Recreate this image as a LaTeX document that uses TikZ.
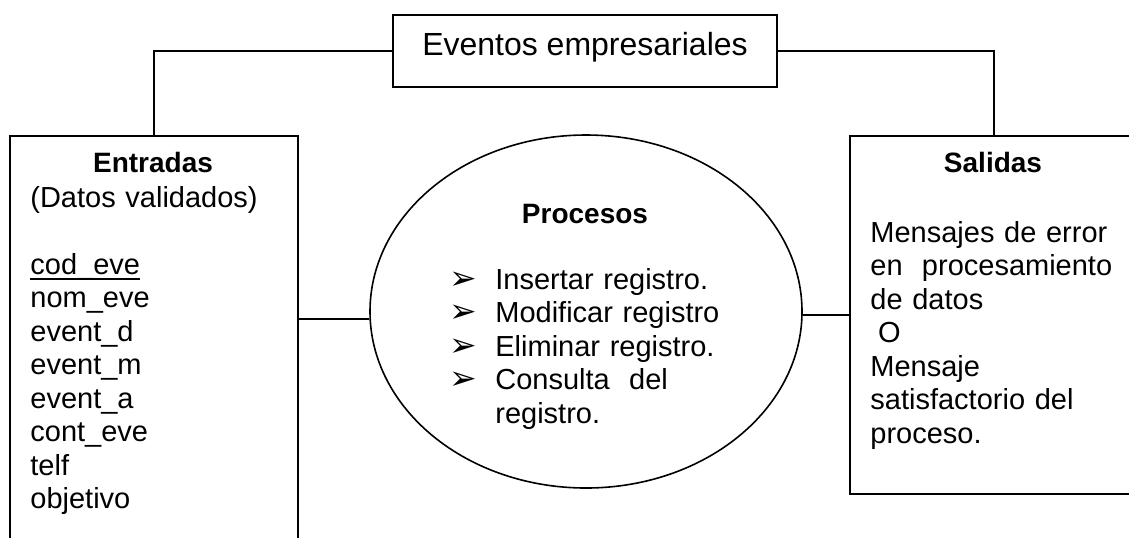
\documentclass[tikz,border=0pt]{standalone}
\usepackage{fontspec}
\setmainfont{Liberation Sans}
\newfontfamily\flechas{DejaVu Sans}
\usetikzlibrary{shapes.geometric}

\newcommand{\flecha}{\makebox[23pt][l]{\smash{\fontsize{16.5}{16}\flechas\char"27A2}}}
\newcommand{\subrayado}[1]{\leavevmode{\setbox0\hbox{#1}\rlap{\rule[-3pt]{\wd0}{1.2pt}}\box0}}

\begin{document}
\begin{tikzpicture}[x=0.5pt,y=-0.5pt,
	caja/.style={draw, line width=1.1pt, inner sep=0pt},
	texto/.style={font=\fontsize{14.5}{16.75}\selectfont, inner sep=0pt},
	titulo/.style={texto, font=\fontsize{14}{16.75}\selectfont\bfseries, anchor=base}]

\useasboundingbox (0,0) rectangle (1129,537);

% cajas
\node [caja, anchor=base, minimum width=192pt, text height=20pt, text depth=16pt,
	font=\fontsize{16}{18}\selectfont] (eventos) at (585,55) {Eventos empresariales};
\node [caja, anchor=north west, minimum width=144pt, minimum height=212pt] (entradas) at (9,135) {};
\node [caja, anchor=north west, minimum width=144pt, minimum height=179pt] (salidas) at (849,135) {};
\node [ellipse, draw, line width=0.8pt, minimum width=216pt, minimum height=176.5pt] (proc) at (586,311.5) {};

% textos
\node [titulo] (entradasTit) at (153,172) {Entradas};
\node [texto, anchor=base west, text width=130pt, align=left] (entradasTxt) at (30,207)
	{(Datos validados)\\[16.75pt]
	\subrayado{cod\_eve}\\
	nom\_eve\\
	event\_d\\
	event\_m\\
	event\_a\\
	cont\_eve\\
	telf\\
	objetivo};

\node [titulo] (procTit) at (585,223) {Procesos};
\node [texto, anchor=base west, text width=160pt, align=left] (procTxt) at (449,289)
	{\flecha Insertar registro.\\
	\flecha Modificar registro\\
	\flecha Eliminar registro.\\
	\flecha Consulta\ \ del\\
	\hspace*{23pt}registro.};

\node [titulo] (salidasTit) at (993,172) {Salidas};
\node [texto, anchor=base west, text width=128pt, align=left] (salidasTxt) at (870,242)
	{Mensajes de error\\
	en\ \ procesamiento\\
	de datos\\
	\hspace*{3.9pt}O\\
	Mensaje\\
	satisfactorio del\\
	proceso.};

% conectores
\draw [line width=1pt] (eventos.west) -| (entradas.north);
\draw [line width=1pt] (eventos.east) -| (salidas.north);
\draw [line width=1pt] (entradas.east |- proc.182) -- (proc.182);
\draw [line width=1pt] (proc.-1) -- (salidas.west |- proc.-1);
\end{tikzpicture}
\end{document}
